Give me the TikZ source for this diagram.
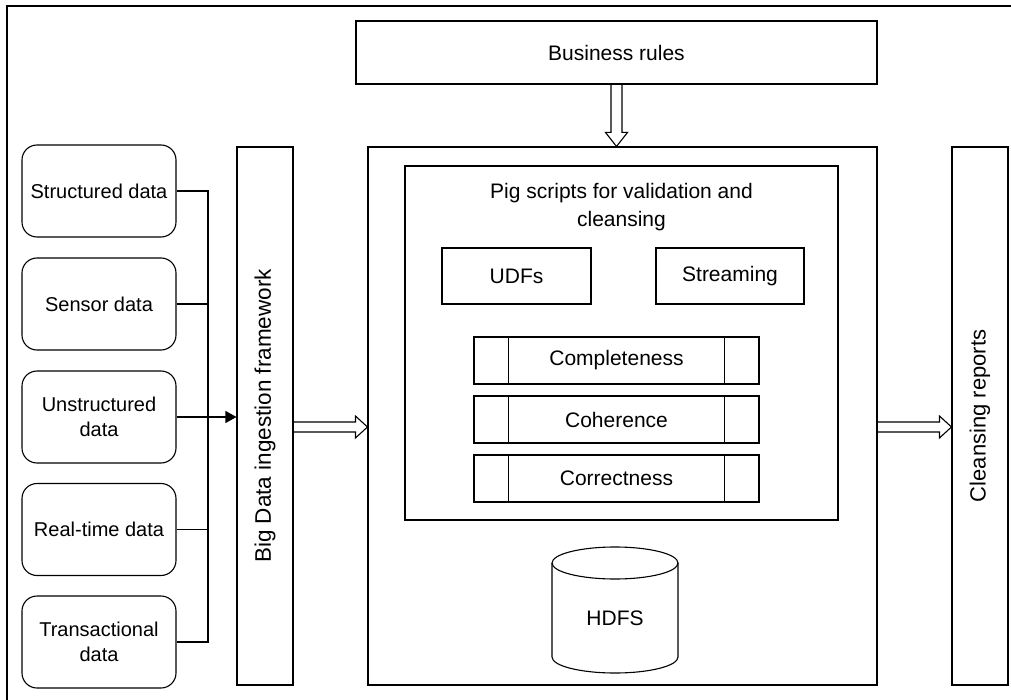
\documentclass[tikz,border=0pt]{standalone}
\usepackage{fontspec}
\setmainfont{Liberation Sans}
\usetikzlibrary{arrows.meta,calc}
\tikzset{
  box/.style={draw, line width=1.1pt, inner sep=0pt, align=center, font=\fontsize{21}{25}\selectfont},
  srcbox/.style={box, rounded corners=15pt, minimum width=154pt, minimum height=92pt, font=\fontsize{20}{25}\selectfont},
  tallbox/.style={box, minimum width=56pt, minimum height=538pt},
  procbox/.style={box, minimum width=285pt, minimum height=47pt},
  line/.style={line width=1.1pt},
  hollow/.style={line width=1.1pt, line join=miter}
}
\begin{document}
\begin{tikzpicture}[x=1pt,y=-1pt]
\useasboundingbox (0,0) rectangle (1011,700);
% outer frame (cut off at right and bottom)
\draw[line] (7,701) -- (7,6) -- (1012,6);

% sources
\node[srcbox] (src1) at (99,191) {Structured data};
\node[srcbox] (src2) at (99,304) {Sensor data};
\node[srcbox] (src3) at (99,417) {Unstructured\\data};
\node[srcbox] (src4) at (99,529.5) {Real-time data};
\node[srcbox] (src5) at (99,642) {Transactional\\data};

% ingestion
\node[tallbox] (ing) at (265,416) {};
\node[rotate=90, font=\fontsize{22.5}{25}\selectfont] (ingtxt) at (ing.center) {Big Data ingestion framework};

% bus connectors
\coordinate (j) at (208,0);
\draw[line] (src1.east) -- (src1.east -| j) -- (src5.east -| j) -- (src5.east);
\draw[line] (src2.east) -- (src2.east -| j);
\draw[line] (src4.east) -- (src4.east -| j);
\draw[line, -{Triangle[length=11pt,width=12pt]}] (src3.east) -- (ing.west |- src3.east);

% business rules
\node[box, minimum width=521pt, minimum height=63pt] (rules) at (616.5,52.5) {Business rules};

% main box
\node[box, minimum width=509pt, minimum height=538pt] (main) at (622.5,416) {};

% inner box
\node[box, minimum width=433pt, minimum height=354pt] (inner) at (621.5,343) {};
\node[align=center, font=\fontsize{21}{28}\selectfont] (pig) at (621.5,207) {Pig scripts for validation and\\cleansing};
\node[box, minimum width=149pt, minimum height=56pt] (udf) at (516.5,276) {UDFs};
\node[box, minimum width=148pt, minimum height=56pt] (stream) at (730,276) {Streaming};

% predefined process boxes
\foreach \n/\t/\y in {comp/Completeness/360.5, coh/Coherence/419.5, corr/Correctness/478.5}{
  \node[procbox] (\n) at (616.5,\y) {\t};
  \draw[line] ($(\n.north west)+(35,0)$) -- ($(\n.south west)+(35,0)$);
  \draw[line] ($(\n.north east)+(-35,0)$) -- ($(\n.south east)+(-35,0)$);
}

% HDFS cylinder
\node[font=\fontsize{21}{25}\selectfont] (hdfs) at (615,618) {HDFS};
\draw[line] (552,563) -- (552,657) arc[start angle=180, end angle=0, x radius=63, y radius=16] -- (678,563);
\draw[line] (615,563) ellipse [x radius=63, y radius=16];

% cleansing reports
\node[tallbox] (clean) at (980,416) {};
\node[rotate=90, font=\fontsize{22}{25}\selectfont] (cleantxt) at (clean.center) {Cleansing reports};

% hollow arrows
\coordinate (L0) at ($(ing.east)+(0,11)$);
\coordinate (L1) at ($(main.west)+(0,11)$);
\draw[hollow] ($(L0)+(0,-5)$) -- ($(L1)+(-12,-5)$) -- ++(0,-6) -- (L1) -- ($(L1)+(-12,11)$) -- ++(0,-6) -- ($(L0)+(0,5)$);

\coordinate (R0) at ($(main.east)+(0,11)$);
\coordinate (R1) at ($(clean.west)+(0,11)$);
\draw[hollow] ($(R0)+(0,-5)$) -- ($(R1)+(-12,-5)$) -- ++(0,-6) -- (R1) -- ($(R1)+(-12,11)$) -- ++(0,-6) -- ($(R0)+(0,5)$);

\coordinate (D1) at (main.north -| rules.south);
\draw[hollow] ($(rules.south)+(-5.5,0)$) -- ($(D1)+(-5.5,-14)$) -- ++(-5.5,0) -- (D1) -- ($(D1)+(11,-14)$) -- ++(-5.5,0) -- ($(rules.south)+(5.5,0)$);
\end{tikzpicture}
\end{document}
